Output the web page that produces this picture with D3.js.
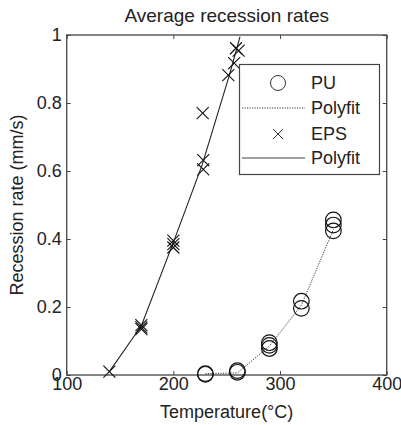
<!DOCTYPE html>
<html>
<head>
<meta charset="utf-8">
<script src="https://cdn.jsdelivr.net/npm/d3@7"></script>
<style>
  html, body { margin: 0; padding: 0; background: #fff; }
  svg { display: block; font-family: "Liberation Sans", Arial, Helvetica, sans-serif; }
</style>
</head>
<body>
<svg id="chart" width="401" height="425"></svg>
<script>
// ---- data ----
const title = "Average recession rates";
const xLabel = "Temperature(°C)";
const yLabel = "Recession rate (mm/s)";
const xTicks = [100, 200, 300, 400];
const yTicks = [0, 0.2, 0.4, 0.6, 0.8, 1];

const puT = [230, 230, 260, 260, 290, 290, 290, 320, 320, 350, 350, 350];
const puR = [0.002, 0.004, 0.013, 0.008, 0.095, 0.087, 0.078, 0.217, 0.196, 0.456, 0.441, 0.424];
const puFitT = [230, 260, 290, 320, 350];
const puFitR = [0.004, 0.006, 0.085, 0.205, 0.428];

const epsT = [140, 170, 170, 170, 200, 200, 200, 228, 228, 227.5, 251.5, 257, 258.7, 261.2];
const epsR = [0.01, 0.147, 0.14, 0.135, 0.395, 0.385, 0.375, 0.632, 0.605, 0.77, 0.882, 0.917, 0.961, 0.954];
const epsFitT = [140, 170, 200, 227, 253, 262.5];
const epsFitR = [0.01, 0.145, 0.39, 0.618, 0.887, 0.995];

const legendLabels = ["PU", "Polyfit", "EPS", "Polyfit"];

// ---- layout ----
const svg = d3.select("#chart");
const W = 401, H = 425;
const m = { left: 66.7, right: 14.3, top: 35, bottom: 50 };
const pw = W - m.left - m.right, ph = H - m.top - m.bottom;
const x = d3.scaleLinear().domain([100, 400]).range([m.left, m.left + pw]);
const y = d3.scaleLinear().domain([0, 1]).range([m.top + ph, m.top]);
const ink = "#222";
const fs = 18;

// frame
svg.append("rect").attr("x", m.left).attr("y", m.top).attr("width", pw).attr("height", ph)
  .attr("fill", "none").attr("stroke", "#444").attr("stroke-width", 1.3);

function styleAxis(g, showText) {
  g.select(".domain").remove();
  g.selectAll(".tick line").attr("stroke", "#444").attr("stroke-width", 1);
  g.selectAll(".tick text").attr("fill", ink).style("font-size", fs + "px");
  if (!showText) g.selectAll(".tick text").remove();
}

svg.append("g").attr("transform", `translate(0,${m.top + ph})`)
  .call(d3.axisBottom(x).tickValues(xTicks).tickSizeInner(-4).tickSizeOuter(0).tickPadding(2.5).tickFormat(d3.format("d")))
  .call(g => styleAxis(g, true));
svg.append("g").attr("transform", `translate(0,${m.top})`)
  .call(d3.axisTop(x).tickValues(xTicks).tickSizeInner(-4).tickSizeOuter(0))
  .call(g => styleAxis(g, false));
svg.append("g").attr("transform", `translate(${m.left},0)`)
  .call(d3.axisLeft(y).tickValues(yTicks).tickSizeInner(-4).tickSizeOuter(0).tickPadding(5).tickFormat(d3.format("")))
  .call(g => styleAxis(g, true));
svg.append("g").attr("transform", `translate(${m.left + pw},0)`)
  .call(d3.axisRight(y).tickValues(yTicks).tickSizeInner(-4).tickSizeOuter(0))
  .call(g => styleAxis(g, false));

// titles
svg.append("text").attr("x", m.left + pw / 2).attr("y", 22).attr("text-anchor", "middle")
  .style("font-size", "19px").attr("fill", ink).text(title);
svg.append("text").attr("x", m.left + pw / 2).attr("y", 418).attr("text-anchor", "middle")
  .style("font-size", fs + "px").attr("fill", ink).text(xLabel);
svg.append("text").attr("transform", `translate(23,${m.top + ph / 2}) rotate(-90)`).attr("text-anchor", "middle")
  .style("font-size", fs + "px").attr("fill", ink).text(yLabel);

// fit lines
const line = d3.line().x(d => x(d[0])).y(d => y(d[1]));
svg.append("path").datum(puFitT.map((t, i) => [t, puFitR[i]])).attr("d", line)
  .attr("fill", "none").attr("stroke", "#333").attr("stroke-width", 1).attr("stroke-dasharray", "1.2,1.3");
svg.append("path").datum(epsFitT.map((t, i) => [t, epsFitR[i]])).attr("d", line)
  .attr("fill", "none").attr("stroke", "#222").attr("stroke-width", 1.1);

// markers
const rC = 7.8, hx = 6;
svg.append("g").selectAll("circle").data(puT.map((t, i) => [t, puR[i]])).join("circle")
  .attr("cx", d => x(d[0])).attr("cy", d => y(d[1])).attr("r", rC)
  .attr("fill", "none").attr("stroke", "#111").attr("stroke-width", 1.2);
function crossPath(cx, cy, s) {
  return `M${cx - s},${cy - s}L${cx + s},${cy + s}M${cx - s},${cy + s}L${cx + s},${cy - s}`;
}
svg.append("g").selectAll("path").data(epsT.map((t, i) => [t, epsR[i]])).join("path")
  .attr("d", d => crossPath(x(d[0]), y(d[1]), hx))
  .attr("fill", "none").attr("stroke", "#111").attr("stroke-width", 1.1);

// legend
const lg = svg.append("g");
lg.append("rect").attr("x", 239.5).attr("y", 64.5).attr("width", 140).attr("height", 110)
  .attr("fill", "#fff").attr("stroke", "#444").attr("stroke-width", 1.2);
const rowY = [83, 108, 134, 158];
const lx0 = 242, lx1 = 305, mx = 278, tx = 311;
lg.append("circle").attr("cx", mx).attr("cy", rowY[0]).attr("r", 7.5)
  .attr("fill", "none").attr("stroke", "#333").attr("stroke-width", 1);
lg.append("line").attr("x1", lx0).attr("x2", lx1).attr("y1", rowY[1]).attr("y2", rowY[1])
  .attr("stroke", "#333").attr("stroke-width", 1).attr("stroke-dasharray", "1.2,1.3");
lg.append("path").attr("d", crossPath(mx, rowY[2], 5))
  .attr("fill", "none").attr("stroke", "#333").attr("stroke-width", 1);
lg.append("line").attr("x1", lx0).attr("x2", lx1).attr("y1", rowY[3]).attr("y2", rowY[3])
  .attr("stroke", "#444").attr("stroke-width", 1.1);
lg.selectAll("text.lab").data(legendLabels).join("text").attr("class", "lab")
  .attr("x", tx).attr("y", (d, i) => rowY[i]).attr("dy", "0.35em")
  .style("font-size", fs + "px").attr("fill", ink).text(d => d);
</script>
</body>
</html>
